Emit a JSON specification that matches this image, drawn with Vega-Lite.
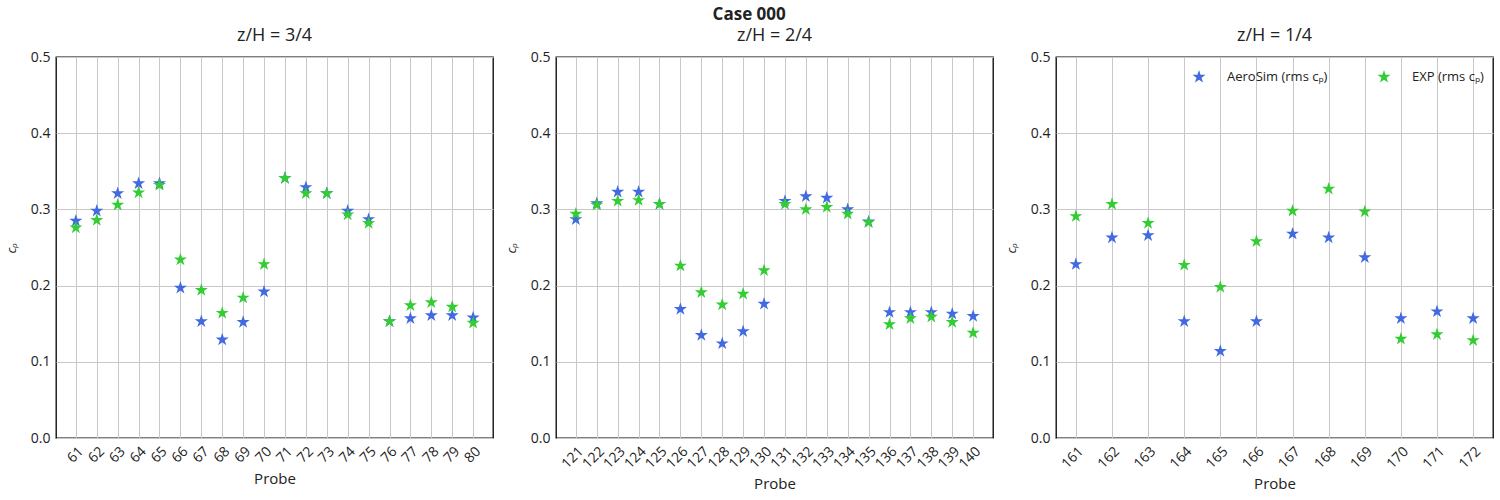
{
  "$schema": "https://vega.github.io/schema/vega-lite/v6.json",
  "autosize": {"type": "pad"},
  "padding": {"left": 4, "top": 6, "right": 3, "bottom": 4},
  "title": {"text": "Case 000", "fontSize": 17, "fontWeight": "bold", "font": "Open Sans", "anchor": "middle", "color": "#222222", "offset": 2},
  "spacing": 10,
  "config": {
    "font": "Open Sans",
    "view": {"stroke": "#000000", "strokeWidth": 1.3},
    "axis": {
      "domain": false,
      "ticks": false,
      "grid": true,
      "gridColor": "#c8c8c8",
      "gridWidth": 1,
      "labelFont": "Open Sans",
      "labelFontSize": 14,
      "labelColor": "#222222",
      "titleFont": "Open Sans",
      "titleFontWeight": "normal",
      "titleColor": "#222222"
    },
    "title": {"font": "Open Sans", "fontSize": 18, "fontWeight": "normal", "color": "#222222", "offset": 5},
    "legend": {"labelFont": "Open Sans", "labelFontSize": 13, "labelColor": "#222222"}
  },
  "data": {
    "values": [
      {"panel": 1, "probe": 61, "series": "AeroSim", "cp": 0.285},
      {"panel": 1, "probe": 62, "series": "AeroSim", "cp": 0.298},
      {"panel": 1, "probe": 63, "series": "AeroSim", "cp": 0.321},
      {"panel": 1, "probe": 64, "series": "AeroSim", "cp": 0.334},
      {"panel": 1, "probe": 65, "series": "AeroSim", "cp": 0.334},
      {"panel": 1, "probe": 66, "series": "AeroSim", "cp": 0.197},
      {"panel": 1, "probe": 67, "series": "AeroSim", "cp": 0.153},
      {"panel": 1, "probe": 68, "series": "AeroSim", "cp": 0.129},
      {"panel": 1, "probe": 69, "series": "AeroSim", "cp": 0.152},
      {"panel": 1, "probe": 70, "series": "AeroSim", "cp": 0.192},
      {"panel": 1, "probe": 71, "series": "AeroSim", "cp": 0.341},
      {"panel": 1, "probe": 72, "series": "AeroSim", "cp": 0.329},
      {"panel": 1, "probe": 73, "series": "AeroSim", "cp": 0.321},
      {"panel": 1, "probe": 74, "series": "AeroSim", "cp": 0.298},
      {"panel": 1, "probe": 75, "series": "AeroSim", "cp": 0.287},
      {"panel": 1, "probe": 76, "series": "AeroSim", "cp": 0.153},
      {"panel": 1, "probe": 77, "series": "AeroSim", "cp": 0.157},
      {"panel": 1, "probe": 78, "series": "AeroSim", "cp": 0.161},
      {"panel": 1, "probe": 79, "series": "AeroSim", "cp": 0.161},
      {"panel": 1, "probe": 80, "series": "AeroSim", "cp": 0.158},
      {"panel": 2, "probe": 121, "series": "AeroSim", "cp": 0.287},
      {"panel": 2, "probe": 122, "series": "AeroSim", "cp": 0.308},
      {"panel": 2, "probe": 123, "series": "AeroSim", "cp": 0.323},
      {"panel": 2, "probe": 124, "series": "AeroSim", "cp": 0.323},
      {"panel": 2, "probe": 125, "series": "AeroSim", "cp": 0.307},
      {"panel": 2, "probe": 126, "series": "AeroSim", "cp": 0.169},
      {"panel": 2, "probe": 127, "series": "AeroSim", "cp": 0.135},
      {"panel": 2, "probe": 128, "series": "AeroSim", "cp": 0.124},
      {"panel": 2, "probe": 129, "series": "AeroSim", "cp": 0.140},
      {"panel": 2, "probe": 130, "series": "AeroSim", "cp": 0.176},
      {"panel": 2, "probe": 131, "series": "AeroSim", "cp": 0.311},
      {"panel": 2, "probe": 132, "series": "AeroSim", "cp": 0.317},
      {"panel": 2, "probe": 133, "series": "AeroSim", "cp": 0.315},
      {"panel": 2, "probe": 134, "series": "AeroSim", "cp": 0.300},
      {"panel": 2, "probe": 135, "series": "AeroSim", "cp": 0.284},
      {"panel": 2, "probe": 136, "series": "AeroSim", "cp": 0.165},
      {"panel": 2, "probe": 137, "series": "AeroSim", "cp": 0.165},
      {"panel": 2, "probe": 138, "series": "AeroSim", "cp": 0.165},
      {"panel": 2, "probe": 139, "series": "AeroSim", "cp": 0.163},
      {"panel": 2, "probe": 140, "series": "AeroSim", "cp": 0.160},
      {"panel": 3, "probe": 161, "series": "AeroSim", "cp": 0.228},
      {"panel": 3, "probe": 162, "series": "AeroSim", "cp": 0.263},
      {"panel": 3, "probe": 163, "series": "AeroSim", "cp": 0.266},
      {"panel": 3, "probe": 164, "series": "AeroSim", "cp": 0.153},
      {"panel": 3, "probe": 165, "series": "AeroSim", "cp": 0.114},
      {"panel": 3, "probe": 166, "series": "AeroSim", "cp": 0.153},
      {"panel": 3, "probe": 167, "series": "AeroSim", "cp": 0.268},
      {"panel": 3, "probe": 168, "series": "AeroSim", "cp": 0.263},
      {"panel": 3, "probe": 169, "series": "AeroSim", "cp": 0.237},
      {"panel": 3, "probe": 170, "series": "AeroSim", "cp": 0.157},
      {"panel": 3, "probe": 171, "series": "AeroSim", "cp": 0.166},
      {"panel": 3, "probe": 172, "series": "AeroSim", "cp": 0.157},
      {"panel": 1, "probe": 61, "series": "EXP", "cp": 0.276},
      {"panel": 1, "probe": 62, "series": "EXP", "cp": 0.286},
      {"panel": 1, "probe": 63, "series": "EXP", "cp": 0.306},
      {"panel": 1, "probe": 64, "series": "EXP", "cp": 0.322},
      {"panel": 1, "probe": 65, "series": "EXP", "cp": 0.332},
      {"panel": 1, "probe": 66, "series": "EXP", "cp": 0.234},
      {"panel": 1, "probe": 67, "series": "EXP", "cp": 0.194},
      {"panel": 1, "probe": 68, "series": "EXP", "cp": 0.164},
      {"panel": 1, "probe": 69, "series": "EXP", "cp": 0.184},
      {"panel": 1, "probe": 70, "series": "EXP", "cp": 0.228},
      {"panel": 1, "probe": 71, "series": "EXP", "cp": 0.341},
      {"panel": 1, "probe": 72, "series": "EXP", "cp": 0.321},
      {"panel": 1, "probe": 73, "series": "EXP", "cp": 0.321},
      {"panel": 1, "probe": 74, "series": "EXP", "cp": 0.293},
      {"panel": 1, "probe": 75, "series": "EXP", "cp": 0.282},
      {"panel": 1, "probe": 76, "series": "EXP", "cp": 0.153},
      {"panel": 1, "probe": 77, "series": "EXP", "cp": 0.174},
      {"panel": 1, "probe": 78, "series": "EXP", "cp": 0.178},
      {"panel": 1, "probe": 79, "series": "EXP", "cp": 0.172},
      {"panel": 1, "probe": 80, "series": "EXP", "cp": 0.151},
      {"panel": 2, "probe": 121, "series": "EXP", "cp": 0.294},
      {"panel": 2, "probe": 122, "series": "EXP", "cp": 0.306},
      {"panel": 2, "probe": 123, "series": "EXP", "cp": 0.311},
      {"panel": 2, "probe": 124, "series": "EXP", "cp": 0.312},
      {"panel": 2, "probe": 125, "series": "EXP", "cp": 0.307},
      {"panel": 2, "probe": 126, "series": "EXP", "cp": 0.226},
      {"panel": 2, "probe": 127, "series": "EXP", "cp": 0.191},
      {"panel": 2, "probe": 128, "series": "EXP", "cp": 0.175},
      {"panel": 2, "probe": 129, "series": "EXP", "cp": 0.189},
      {"panel": 2, "probe": 130, "series": "EXP", "cp": 0.220},
      {"panel": 2, "probe": 131, "series": "EXP", "cp": 0.307},
      {"panel": 2, "probe": 132, "series": "EXP", "cp": 0.300},
      {"panel": 2, "probe": 133, "series": "EXP", "cp": 0.303},
      {"panel": 2, "probe": 134, "series": "EXP", "cp": 0.294},
      {"panel": 2, "probe": 135, "series": "EXP", "cp": 0.283},
      {"panel": 2, "probe": 136, "series": "EXP", "cp": 0.149},
      {"panel": 2, "probe": 137, "series": "EXP", "cp": 0.157},
      {"panel": 2, "probe": 138, "series": "EXP", "cp": 0.159},
      {"panel": 2, "probe": 139, "series": "EXP", "cp": 0.152},
      {"panel": 2, "probe": 140, "series": "EXP", "cp": 0.138},
      {"panel": 3, "probe": 161, "series": "EXP", "cp": 0.291},
      {"panel": 3, "probe": 162, "series": "EXP", "cp": 0.307},
      {"panel": 3, "probe": 163, "series": "EXP", "cp": 0.282},
      {"panel": 3, "probe": 164, "series": "EXP", "cp": 0.227},
      {"panel": 3, "probe": 165, "series": "EXP", "cp": 0.198},
      {"panel": 3, "probe": 166, "series": "EXP", "cp": 0.258},
      {"panel": 3, "probe": 167, "series": "EXP", "cp": 0.298},
      {"panel": 3, "probe": 168, "series": "EXP", "cp": 0.327},
      {"panel": 3, "probe": 169, "series": "EXP", "cp": 0.297},
      {"panel": 3, "probe": 170, "series": "EXP", "cp": 0.130},
      {"panel": 3, "probe": 171, "series": "EXP", "cp": 0.136},
      {"panel": 3, "probe": 172, "series": "EXP", "cp": 0.128}
    ]
  },
  "hconcat": [
    {
      "width": 437,
      "height": 381,
      "title": {"text": "z/H = 3/4"},
      "transform": [{"filter": "datum.panel == 1"}],
      "mark": {"type": "point", "shape": "M0,-1L0.2245,-0.309L0.951,-0.309L0.363,0.118L0.588,0.809L0,0.382L-0.588,0.809L-0.363,0.118L-0.951,-0.309L-0.2245,-0.309Z", "filled": true, "size": 190, "opacity": 1},
      "encoding": {
        "x": {"field": "probe", "type": "ordinal", "scale": {"type": "point", "padding": 0.95}, "axis": {"title": "Probe", "titleFontSize": 15, "labelAngle": -45, "labelPadding": 6, "titlePadding": 6}},
        "y": {"field": "cp", "type": "quantitative", "scale": {"domain": [0, 0.5], "nice": false}, "axis": {"title": "cₚ", "titleFontSize": 13, "titleFontStyle": "italic", "values": [0, 0.1, 0.2, 0.3, 0.4, 0.5], "format": ".1f", "labelPadding": 6, "titlePadding": 12}},
        "color": {"field": "series", "type": "nominal", "scale": {"domain": ["AeroSim", "EXP"], "range": ["#4169E1", "#32CD32"]}, "legend": null}
      }
    },
    {
      "width": 437,
      "height": 381,
      "title": {"text": "z/H = 2/4"},
      "transform": [{"filter": "datum.panel == 2"}],
      "mark": {"type": "point", "shape": "M0,-1L0.2245,-0.309L0.951,-0.309L0.363,0.118L0.588,0.809L0,0.382L-0.588,0.809L-0.363,0.118L-0.951,-0.309L-0.2245,-0.309Z", "filled": true, "size": 190, "opacity": 1},
      "encoding": {
        "x": {"field": "probe", "type": "ordinal", "scale": {"type": "point", "padding": 0.95}, "axis": {"title": "Probe", "titleFontSize": 15, "labelAngle": -45, "labelPadding": 6, "titlePadding": 6}},
        "y": {"field": "cp", "type": "quantitative", "scale": {"domain": [0, 0.5], "nice": false}, "axis": {"title": "cₚ", "titleFontSize": 13, "titleFontStyle": "italic", "values": [0, 0.1, 0.2, 0.3, 0.4, 0.5], "format": ".1f", "labelPadding": 6, "titlePadding": 12}},
        "color": {"field": "series", "type": "nominal", "scale": {"domain": ["AeroSim", "EXP"], "range": ["#4169E1", "#32CD32"]}, "legend": null}
      }
    },
    {
      "width": 437,
      "height": 381,
      "title": {"text": "z/H = 1/4"},
      "transform": [{"filter": "datum.panel == 3"}],
      "mark": {"type": "point", "shape": "M0,-1L0.2245,-0.309L0.951,-0.309L0.363,0.118L0.588,0.809L0,0.382L-0.588,0.809L-0.363,0.118L-0.951,-0.309L-0.2245,-0.309Z", "filled": true, "size": 190, "opacity": 1},
      "encoding": {
        "x": {"field": "probe", "type": "ordinal", "scale": {"type": "point", "padding": 0.55}, "axis": {"title": "Probe", "titleFontSize": 15, "labelAngle": -45, "labelPadding": 6, "titlePadding": 6}},
        "y": {"field": "cp", "type": "quantitative", "scale": {"domain": [0, 0.5], "nice": false}, "axis": {"title": "cₚ", "titleFontSize": 13, "titleFontStyle": "italic", "values": [0, 0.1, 0.2, 0.3, 0.4, 0.5], "format": ".1f", "labelPadding": 6, "titlePadding": 12}},
        "color": {"field": "series", "type": "nominal", "scale": {"domain": ["AeroSim", "EXP"], "range": ["#4169E1", "#32CD32"]},
          "legend": {"title": null, "orient": "none", "legendX": 135, "legendY": 12, "direction": "horizontal", "columns": 2, "columnPadding": 48, "symbolSize": 190, "labelOffset": 20, "labelExpr": "datum.label == 'AeroSim' ? 'AeroSim (rms cₚ)' : 'EXP (rms cₚ)'"}}
      }
    }
  ],
  "resolve": {"scale": {"color": "independent"}}
}
